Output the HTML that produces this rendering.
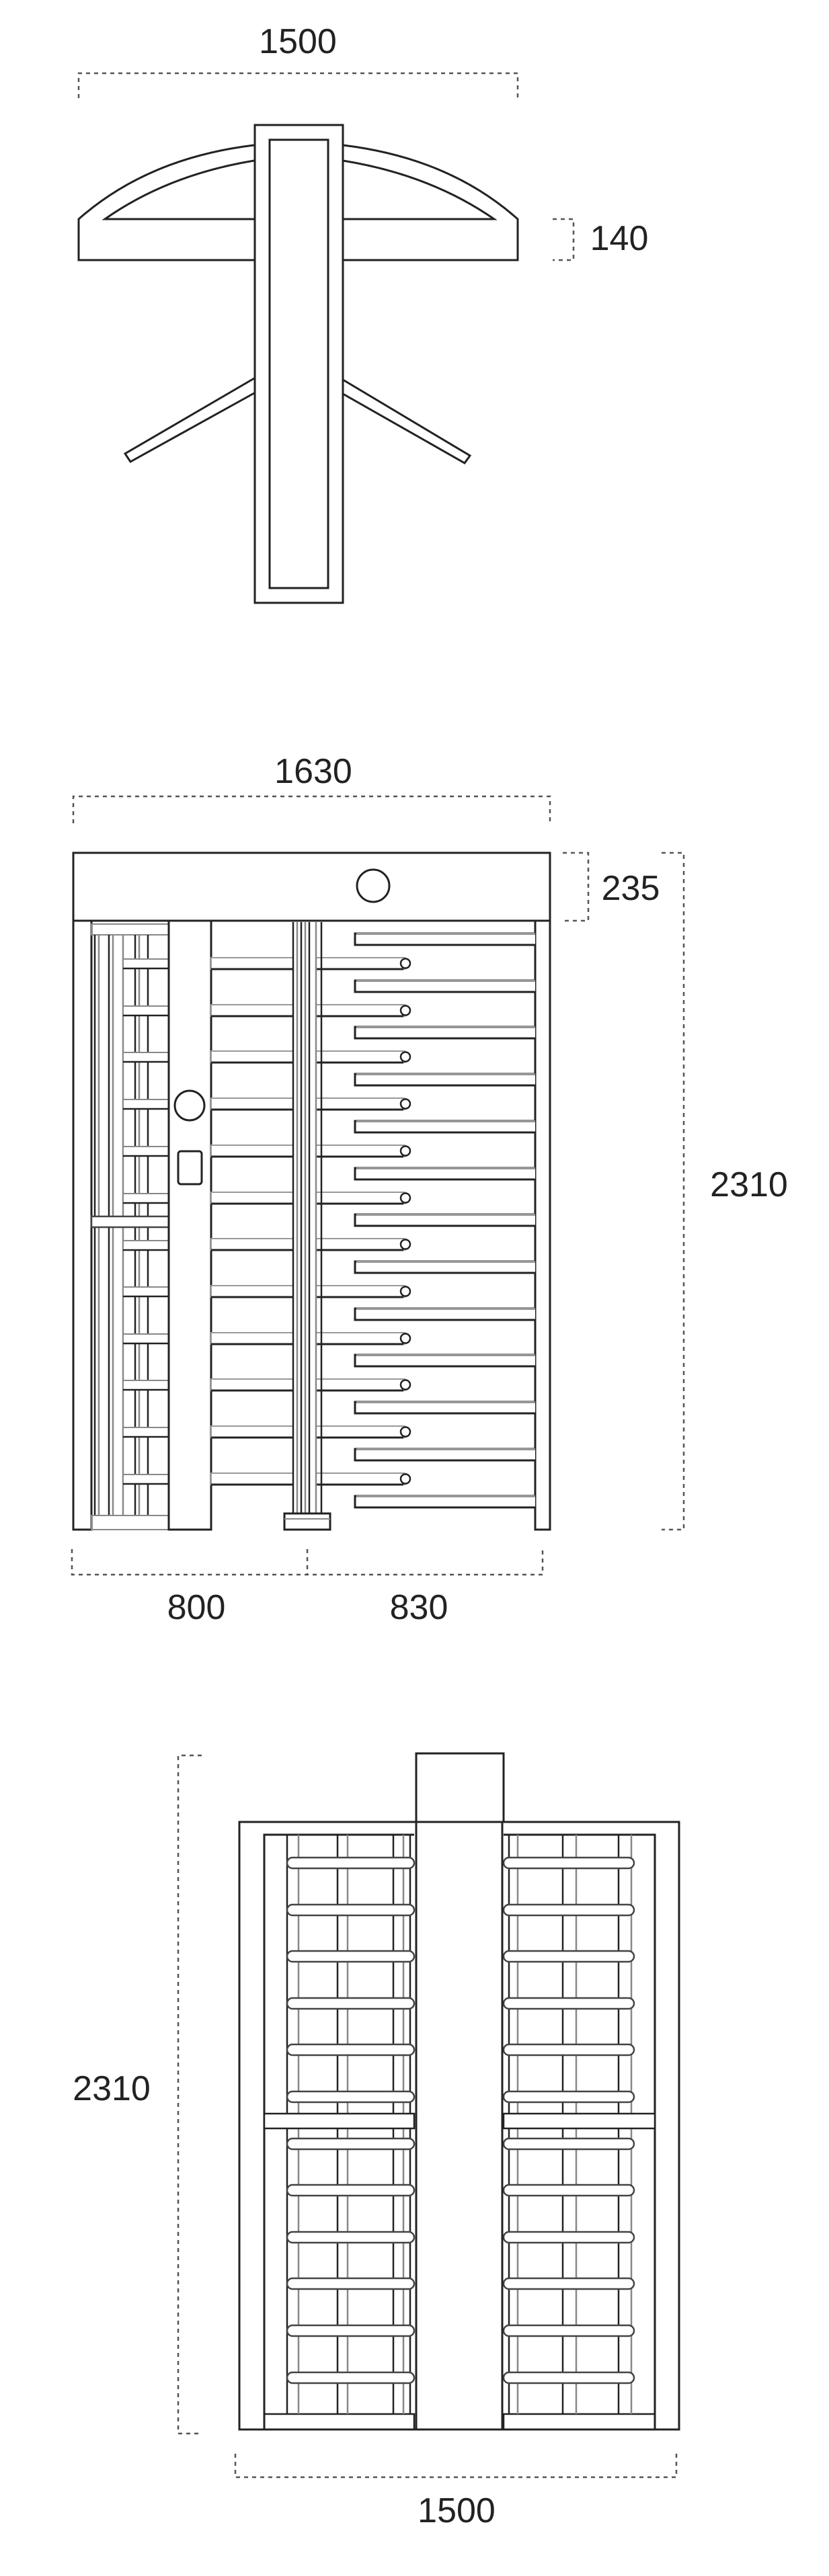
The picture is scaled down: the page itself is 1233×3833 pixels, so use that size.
<!DOCTYPE html>
<html><head><meta charset="utf-8"><style>
html,body{margin:0;padding:0;background:#fff;}
svg{display:block;}
text{font-family:"Liberation Sans",Arial,sans-serif;fill:#222;font-size:52px;}
</style></head><body>
<svg width="1233" height="3833" viewBox="0 0 1233 3833" xmlns="http://www.w3.org/2000/svg">
<defs>
<g id="rarm"><rect x="314" y="0" width="122" height="17" fill="#fff" stroke="#999" stroke-width="2"/><line x1="314" y1="17" x2="436" y2="17" stroke="#222" stroke-width="3"/>
<path d="M470 0 H600 A8.5 8.5 0 0 1 600 17 H470" fill="#fff" stroke="#999" stroke-width="2"/><line x1="470" y1="17" x2="600" y2="17" stroke="#222" stroke-width="3"/><circle cx="603" cy="8.5" r="7" fill="#fff" stroke="#222" stroke-width="2.5"/></g>
<g id="farm"><path d="M796 0 H528 V17 H796" fill="#fff" stroke="#222" stroke-width="3"/><line x1="530" y1="0" x2="796" y2="0" stroke="#999" stroke-width="2"/></g>
<g id="sbar"><rect x="183" y="0" width="68" height="14" fill="#fff" stroke="#888" stroke-width="2"/><line x1="183" y1="14" x2="251" y2="14" stroke="#222" stroke-width="2.5"/></g>
<g id="hbar"><rect x="427" y="0" width="189" height="16" rx="8" fill="#fff" stroke="#444" stroke-width="2.5"/><rect x="749" y="0" width="194" height="16" rx="8" fill="#fff" stroke="#444" stroke-width="2.5"/></g>
</defs>
<g fill="none" stroke="#222" stroke-width="3">
<!-- FIG 1 -->
<g stroke="#555" stroke-width="2.5" stroke-dasharray="6,6"><path d="M117 146 V109 H770 V146"/><path d="M822 326 H853 V387 H822"/></g>
<path d="M378 216 Q220 235 117 326 V387 H378"/>
<path d="M378 239 Q250 260 156 326 H378"/>
<path d="M510 216 Q668 235 770 326 V387 H510"/>
<path d="M510 239 Q640 260 735 326 H510"/>
<path d="M378 563 L186 675 L194 687 L378 585"/>
<path d="M510 565 L699 678 L691 689 L510 586"/>
<rect x="379" y="186" width="131" height="711" fill="#fff"/>
<rect x="401" y="208" width="87" height="667"/>
<!-- FIG 2 -->
<g stroke="#555" stroke-width="2.5" stroke-dasharray="6,6"><path d="M109 1225 V1185 H818 V1225"/><path d="M837 1269 H875 V1370 H837"/><path d="M984 1269 H1017 V2276 H984"/><path d="M107 2305 V2343 H807 V2305 M457 2305 V2343"/></g>
<rect x="109" y="1269" width="709" height="101"/>
<circle cx="555" cy="1318" r="24"/>
<rect x="109" y="1370" width="27" height="906"/>
<rect x="796" y="1370" width="22" height="906"/>
<rect x="136" y="1375" width="115" height="16" stroke="#888" stroke-width="2"/>
<g stroke-width="2.5"><line x1="141" y1="1391" x2="141" y2="2255"/><line x1="147" y1="1391" x2="147" y2="2255" stroke="#888"/><line x1="162" y1="1391" x2="162" y2="2255"/><line x1="168" y1="1391" x2="168" y2="2255" stroke="#888"/><line x1="183" y1="1391" x2="183" y2="2255" stroke="#888"/><line x1="201" y1="1391" x2="201" y2="2255"/><line x1="207" y1="1391" x2="207" y2="2255" stroke="#888"/><line x1="220" y1="1391" x2="220" y2="2255"/></g>
<use href="#sbar" y="1427"/><use href="#sbar" y="1497"/><use href="#sbar" y="1566"/><use href="#sbar" y="1636"/><use href="#sbar" y="1706"/><use href="#sbar" y="1776"/><use href="#sbar" y="1846"/><use href="#sbar" y="1915"/><use href="#sbar" y="1985"/><use href="#sbar" y="2054"/><use href="#sbar" y="2124"/><use href="#sbar" y="2194"/>
<rect x="136" y="1810" width="115" height="16" fill="#fff" stroke="#444" stroke-width="2.5"/>
<rect x="136" y="2255" width="115" height="21" stroke="#888" stroke-width="2"/>
<rect x="251" y="1370" width="63" height="906"/>
<circle cx="282" cy="1645" r="22"/>
<rect x="265" y="1713" width="35" height="49" rx="4"/>
<use href="#rarm" y="1425"/><use href="#rarm" y="1495"/><use href="#rarm" y="1564"/><use href="#rarm" y="1634"/><use href="#rarm" y="1704"/><use href="#rarm" y="1774"/><use href="#rarm" y="1843"/><use href="#rarm" y="1913"/><use href="#rarm" y="1983"/><use href="#rarm" y="2052"/><use href="#rarm" y="2122"/><use href="#rarm" y="2192"/>
<use href="#farm" y="1389"/><use href="#farm" y="1459"/><use href="#farm" y="1528"/><use href="#farm" y="1598"/><use href="#farm" y="1668"/><use href="#farm" y="1738"/><use href="#farm" y="1807"/><use href="#farm" y="1877"/><use href="#farm" y="1947"/><use href="#farm" y="2016"/><use href="#farm" y="2086"/><use href="#farm" y="2156"/><use href="#farm" y="2226"/>
<g stroke-width="2.5"><line x1="436" y1="1372" x2="436" y2="2252"/><line x1="442" y1="1372" x2="442" y2="2252" stroke="#888"/><line x1="448" y1="1372" x2="448" y2="2252"/><line x1="454" y1="1372" x2="454" y2="2252" stroke="#888"/><line x1="460" y1="1372" x2="460" y2="2252"/><line x1="470" y1="1372" x2="470" y2="2252" stroke="#888"/><line x1="478" y1="1372" x2="478" y2="2252"/></g>
<rect x="423" y="2252" width="68" height="24" fill="#fff"/>
<line x1="423" y1="2260" x2="491" y2="2260" stroke="#888" stroke-width="2"/>
<!-- FIG 3 -->
<g stroke="#555" stroke-width="2.5" stroke-dasharray="6,6"><path d="M300 2612 H265 V3621 H300"/><path d="M350 3651 V3686 H1006 V3651"/></g>
<rect x="619" y="2609" width="130" height="102"/>
<rect x="356" y="2711" width="654" height="904"/>
<path d="M393 3615 V2730 H616 M749 2730 H974 V3615" />
<rect x="393" y="3592" width="223" height="23" stroke-width="2.5"/>
<rect x="749" y="3592" width="225" height="23" stroke-width="2.5"/>
<g stroke-width="2.5"><line x1="427" y1="2730" x2="427" y2="3592"/><line x1="444" y1="2730" x2="444" y2="3592" stroke="#888"/><line x1="502" y1="2730" x2="502" y2="3592"/><line x1="517" y1="2730" x2="517" y2="3592" stroke="#888"/><line x1="585" y1="2730" x2="585" y2="3592"/><line x1="600" y1="2730" x2="600" y2="3592" stroke="#888"/><line x1="610" y1="2730" x2="610" y2="3592"/>
<line x1="757" y1="2730" x2="757" y2="3592"/><line x1="770" y1="2730" x2="770" y2="3592" stroke="#888"/><line x1="837" y1="2730" x2="837" y2="3592"/><line x1="857" y1="2730" x2="857" y2="3592" stroke="#888"/><line x1="920" y1="2730" x2="920" y2="3592"/><line x1="939" y1="2730" x2="939" y2="3592" stroke="#888"/></g>
<use href="#hbar" y="2764"/><use href="#hbar" y="2834"/><use href="#hbar" y="2903"/><use href="#hbar" y="2973"/><use href="#hbar" y="3042"/><use href="#hbar" y="3112"/><use href="#hbar" y="3182"/><use href="#hbar" y="3251"/><use href="#hbar" y="3321"/><use href="#hbar" y="3390"/><use href="#hbar" y="3460"/><use href="#hbar" y="3530"/>
<rect x="393" y="3145" width="223" height="22" fill="#fff" stroke-width="2.5"/>
<rect x="749" y="3145" width="225" height="22" fill="#fff" stroke-width="2.5"/>
<rect x="619" y="2711" width="128" height="904" fill="#fff"/>
</g>
<text x="443" y="79" text-anchor="middle">1500</text>
<text x="921" y="372" text-anchor="middle">140</text>
<text x="466" y="1165" text-anchor="middle">1630</text>
<text x="938" y="1339" text-anchor="middle">235</text>
<text x="1114" y="1780" text-anchor="middle">2310</text>
<text x="292" y="2409" text-anchor="middle">800</text>
<text x="623" y="2409" text-anchor="middle">830</text>
<text x="166" y="3125" text-anchor="middle">2310</text>
<text x="679" y="3753" text-anchor="middle">1500</text>
</svg>
</body></html>
